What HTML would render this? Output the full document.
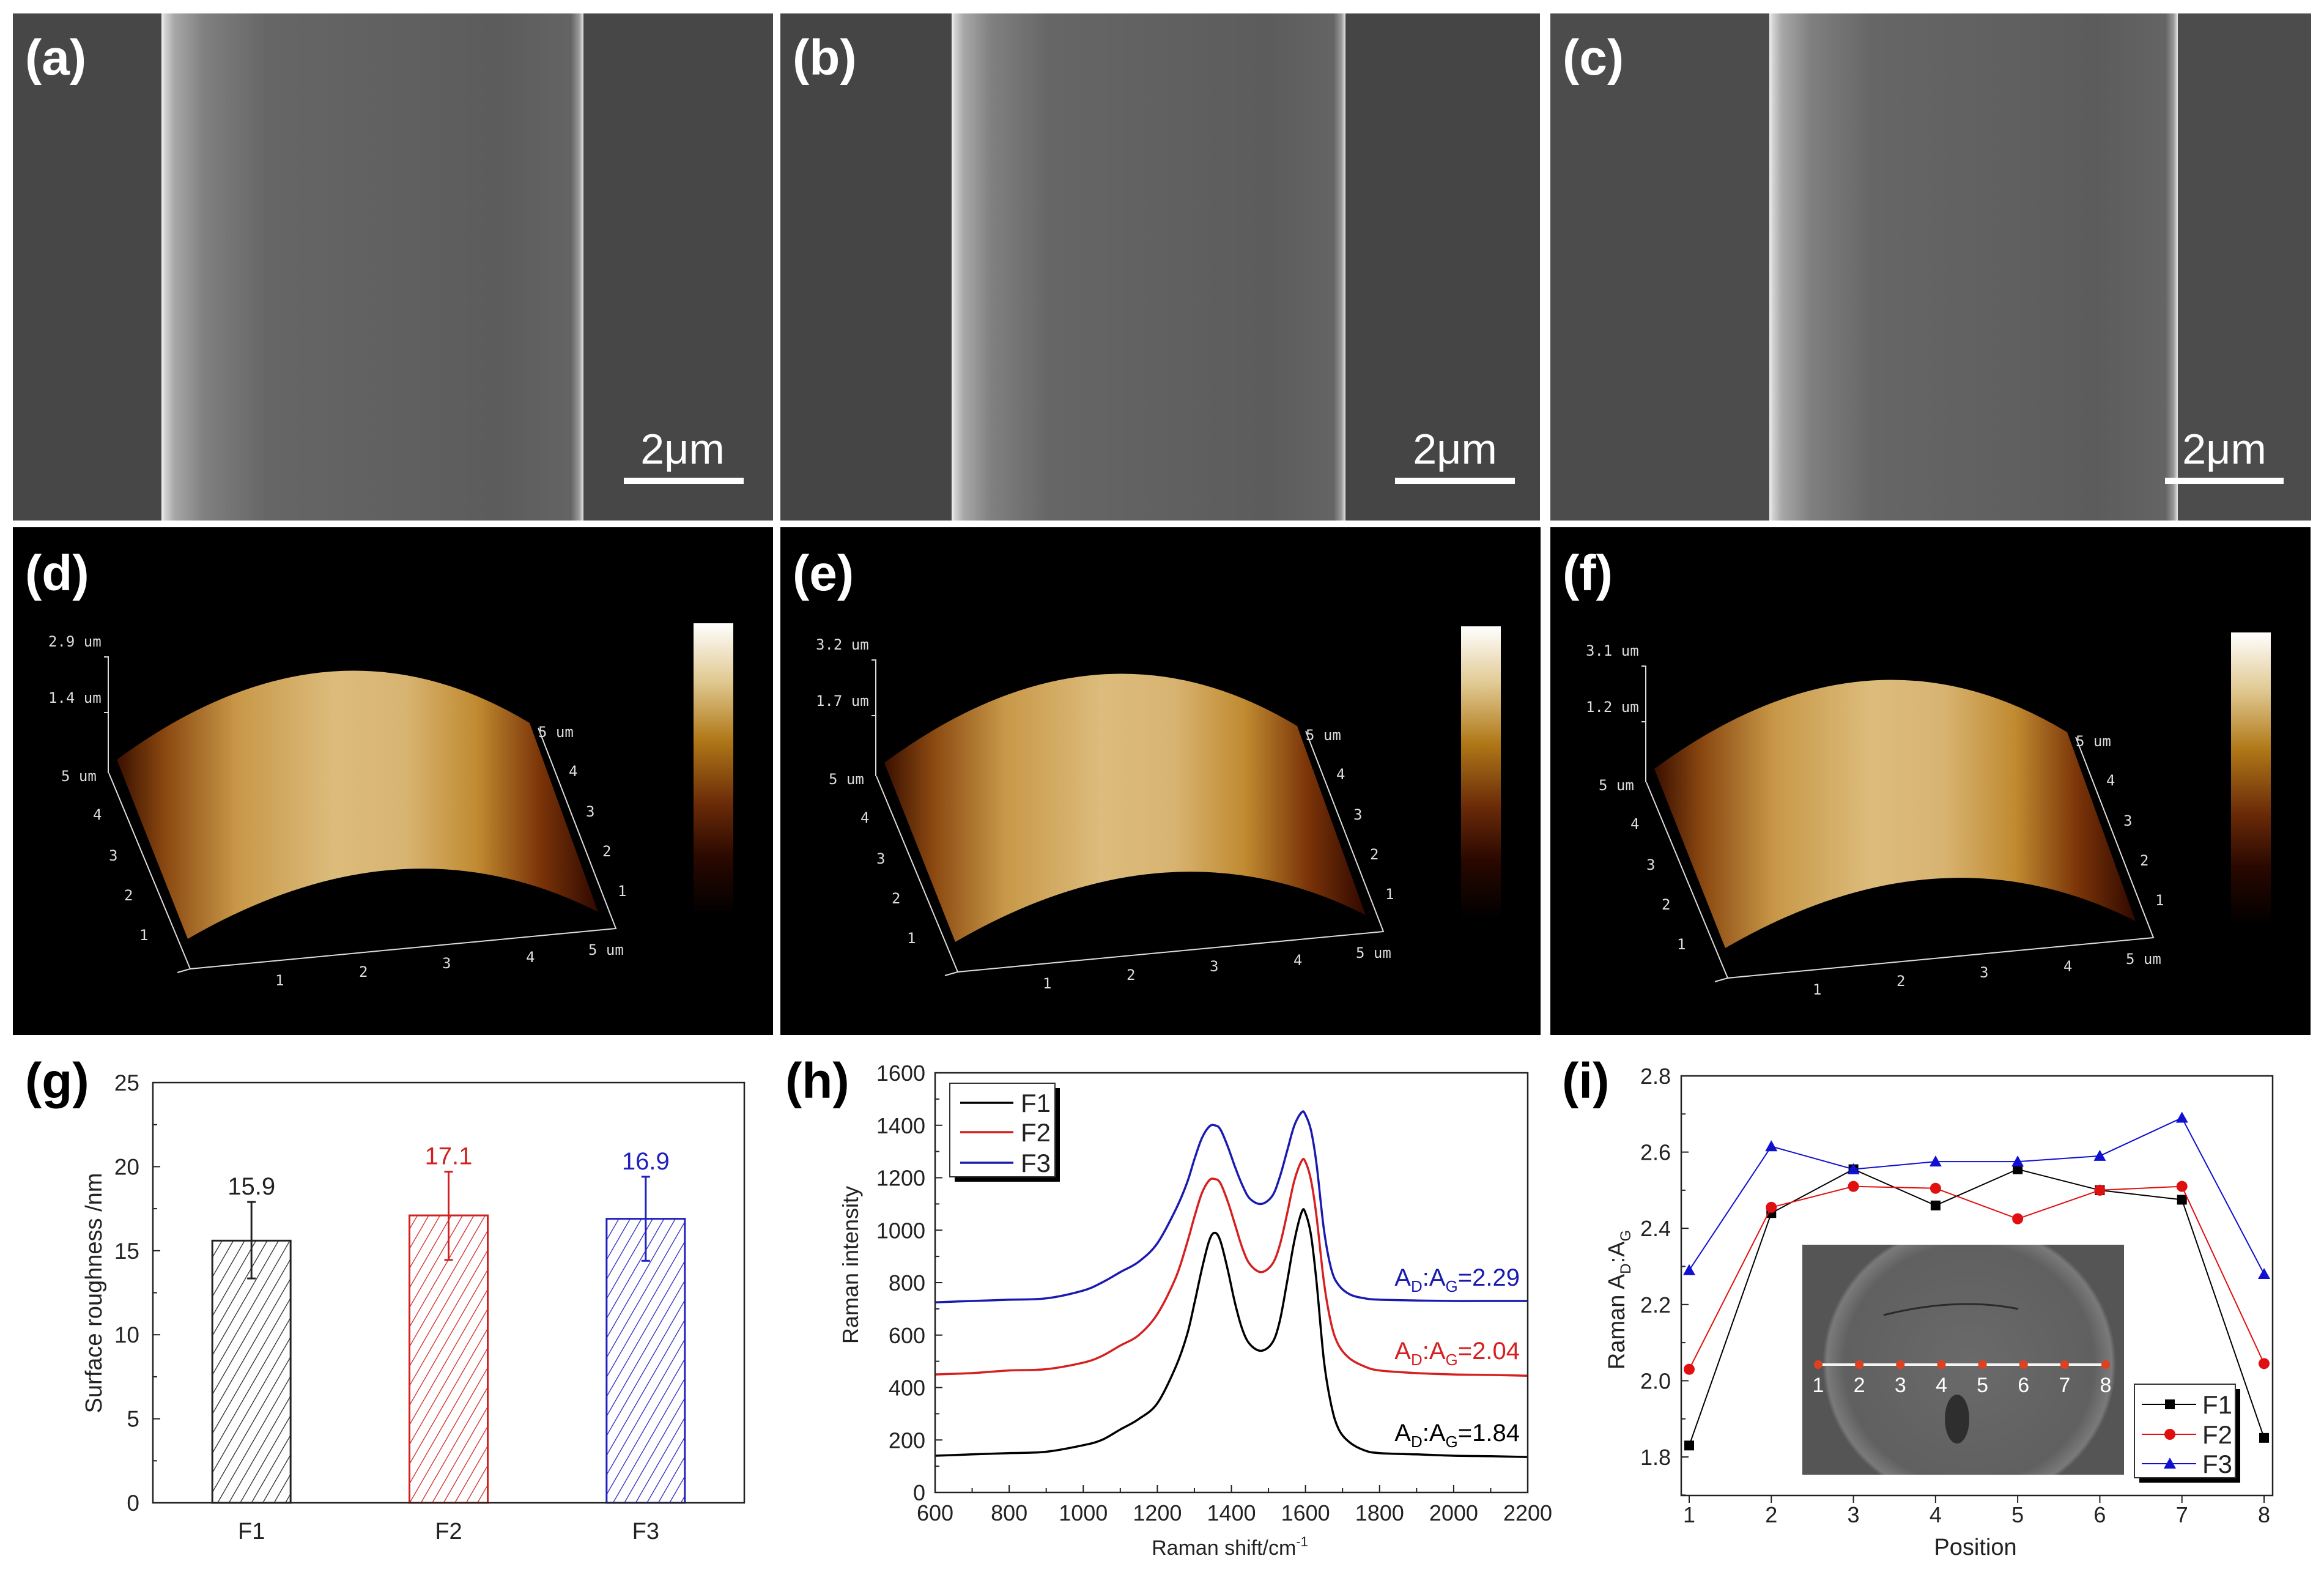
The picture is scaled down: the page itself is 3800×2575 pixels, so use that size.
<!DOCTYPE html>
<html><head><meta charset="utf-8"><style>
html,body{margin:0;padding:0;background:#fff}
svg{display:block;font-family:"Liberation Sans",sans-serif}
</style></head><body>
<svg id="fig" width="3800" height="2575" viewBox="0 0 3800 2575" xmlns="http://www.w3.org/2000/svg">
<defs>
<linearGradient id="fiberA" x1="0" x2="1" y1="0" y2="0">
<stop offset="0" stop-color="#f2f2f2"/><stop offset="0.008" stop-color="#d4d4d4"/><stop offset="0.03" stop-color="#a8a8a8"/><stop offset="0.1" stop-color="#808080"/><stop offset="0.25" stop-color="#666"/><stop offset="0.8" stop-color="#5c5c5c"/><stop offset="0.97" stop-color="#646464"/><stop offset="0.99" stop-color="#9a9a9a"/><stop offset="1" stop-color="#e6e6e6"/>
</linearGradient>
<linearGradient id="afmFill" x1="0" x2="1" y1="0" y2="0">
<stop offset="0" stop-color="#3a1000"/><stop offset="0.1" stop-color="#8a4810"/><stop offset="0.25" stop-color="#c89848"/><stop offset="0.45" stop-color="#dcbc7c"/><stop offset="0.6" stop-color="#d8b472"/><stop offset="0.75" stop-color="#c08a30"/><stop offset="0.88" stop-color="#7a3408"/><stop offset="1" stop-color="#300800"/>
</linearGradient>
<linearGradient id="cbar" x1="0" x2="0" y1="0" y2="1">
<stop offset="0" stop-color="#ffffff"/><stop offset="0.2" stop-color="#e0c890"/><stop offset="0.4" stop-color="#b07818"/><stop offset="0.62" stop-color="#6a2a08"/><stop offset="0.8" stop-color="#2a0800"/><stop offset="1" stop-color="#000"/>
</linearGradient>
<radialGradient id="insetFib" cx="0.5" cy="0.5" r="0.5">
<stop offset="0" stop-color="#6a6a6a"/><stop offset="0.85" stop-color="#606060"/><stop offset="0.97" stop-color="#7a7a7a"/><stop offset="1" stop-color="#555"/>
</radialGradient>
<clipPath id="insetClip"><rect x="2947" y="2035" width="526" height="376"/></clipPath>
<pattern id="hatchK" width="16" height="16" patternUnits="userSpaceOnUse" patternTransform="rotate(30)"><line x1="0" y1="0" x2="0" y2="16" stroke="#222" stroke-width="2.5"/></pattern>
<pattern id="hatchR" width="16" height="16" patternUnits="userSpaceOnUse" patternTransform="rotate(30)"><line x1="0" y1="0" x2="0" y2="16" stroke="#d02020" stroke-width="2.5"/></pattern>
<pattern id="hatchB" width="16" height="16" patternUnits="userSpaceOnUse" patternTransform="rotate(30)"><line x1="0" y1="0" x2="0" y2="16" stroke="#2020c0" stroke-width="2.5"/></pattern>
</defs>

<g>
<rect x="21" y="22" width="1243" height="829" fill="#474747"/>
<rect x="264" y="22" width="690" height="829" fill="url(#fiberA)"/>
<text x="41" y="122" font-size="82" font-weight="bold" fill="#fff">(a)</text>
<text x="1116" y="758" font-size="70" fill="#fff" text-anchor="middle">2μm</text>
<rect x="1020" y="781" width="196" height="10" fill="#fff"/>
</g>
<g>
<rect x="1276" y="22" width="1242" height="829" fill="#454545"/>
<rect x="1556" y="22" width="644" height="829" fill="url(#fiberA)"/>
<text x="1296" y="122" font-size="82" font-weight="bold" fill="#fff">(b)</text>
<text x="2379" y="758" font-size="70" fill="#fff" text-anchor="middle">2μm</text>
<rect x="2281" y="781" width="196" height="10" fill="#fff"/>
</g>
<g>
<rect x="2535" y="22" width="1244" height="829" fill="#4c4c4c"/>
<rect x="2893" y="22" width="668" height="829" fill="url(#fiberA)"/>
<text x="2555" y="122" font-size="82" font-weight="bold" fill="#fff">(c)</text>
<text x="3637" y="758" font-size="70" fill="#fff" text-anchor="middle">2μm</text>
<rect x="3540" y="781" width="194" height="10" fill="#fff"/>
</g>

<g id="afmLayer"></g>
<g id="chartG"></g>
<g id="chartH"></g>
<g id="chartI"></g>
</svg>
<script>
const barCategories = ['F1','F2','F3'];
const barValues = [15.6, 17.1, 16.9];
const barErrUpper = [17.9, 19.7, 19.4];
const barErrLower = [13.35, 14.45, 14.4];
const barLabels = ['15.9','17.1','16.9'];
const barTicks = [0,5,10,15,20,25];

const ramanShift = [600,700,800,900,1000,1050,1100,1150,1200,1250,1280,1300,1320,1340,1355,1370,1390,1410,1430,1450,1480,1510,1530,1550,1570,1590,1600,1615,1630,1650,1670,1690,1720,1760,1800,1900,2000,2100,2200];
const ramanF1 = [140,145,150,155,180,200,240,280,340,480,600,720,850,960,990,960,850,720,620,565,540,570,650,800,960,1070,1065,980,800,500,330,240,190,160,150,145,140,138,135];
const ramanF2 = [450,455,465,470,495,520,560,600,680,820,950,1050,1140,1190,1195,1180,1110,1020,930,870,840,870,940,1060,1190,1265,1260,1190,1050,800,640,560,510,480,465,455,450,448,445];
const ramanF3 = [725,730,735,740,770,800,840,880,950,1080,1180,1270,1350,1395,1400,1385,1320,1240,1170,1120,1100,1130,1200,1300,1400,1450,1440,1380,1250,1000,850,790,755,740,735,732,730,730,730];
const ramanXTicks = [600,800,1000,1200,1400,1600,1800,2000,2200];
const ramanYTicks = [0,200,400,600,800,1000,1200,1400,1600];
const ramanRatios = ['1.84','2.04','2.29'];

const positions = [1,2,3,4,5,6,7,8];
const ratioF1 = [1.83,2.44,2.555,2.46,2.555,2.50,2.475,1.85];
const ratioF2 = [2.03,2.455,2.51,2.505,2.425,2.50,2.51,2.045];
const ratioF3 = [2.29,2.615,2.555,2.575,2.575,2.59,2.69,2.28];
const ratioYTicks = ['1.8','2.0','2.2','2.4','2.6','2.8'];

const afmZLabels = [['2.9 um','1.4 um'],['3.2 um','1.7 um'],['3.1 um','1.2 um']];

const NS='http://www.w3.org/2000/svg';
function mk(parent, tag, attrs, txt){
  const e=document.createElementNS(NS,tag);
  for(const k in attrs) e.setAttribute(k,attrs[k]);
  if(txt!==undefined) e.textContent=txt;
  parent.appendChild(e); return e;
}

const afmLayer=document.getElementById('afmLayer');
const afmOffsets=[[21,0],[1276,5],[2535,15]];
const afmLetters=['(d)','(e)','(f)'];
afmOffsets.forEach((o,i)=>{
  const ox=o[0], dy=o[1];
  const g=mk(afmLayer,'g',{transform:`translate(${ox-21},${dy})`});
  
  
  mk(g,'rect',{x:21,y:862-dy,width:1243,height:830,fill:'#000'});
  const lab=mk(g,'text',{x:41,y:965-dy,'font-size':82,'font-weight':'bold',fill:'#fff'},afmLetters[i]);
  
  
  const surf=mk(g,'path',{d:'M191,1242 Q540,985 866,1182 L978,1491 Q660,1330 307,1535 Z',fill:'url(#afmFill)'});
  
  
  const ax={stroke:'#ddd','stroke-width':2,fill:'none'};
  mk(g,'polyline',Object.assign({points:'170,1074 177,1074 177,1264'},ax));
  mk(g,'line',Object.assign({x1:170,y1:1165,x2:177,y2:1165},ax));
  mk(g,'polyline',Object.assign({points:'178,1264 311,1584 1007,1518 880,1190'},ax));
  mk(g,'line',Object.assign({x1:290,y1:1590,x2:311,y2:1584},ax));
  const ts={fill:'#ddd','font-size':24,'font-family':'DejaVu Sans Mono, monospace'};
  mk(g,'text',Object.assign({x:79,y:1057},ts),afmZLabels[i][0]);
  mk(g,'text',Object.assign({x:79,y:1149},ts),afmZLabels[i][1]);
  mk(g,'text',Object.assign({x:100,y:1277},ts),'5 um');
  [['4',152,1340],['3',178,1407],['2',203,1472],['1',228,1537]].forEach(t=>mk(g,'text',Object.assign({x:t[1],y:t[2]},ts),t[0]));
  [['1',450,1611],['2',587,1597],['3',723,1583],['4',860,1573],['5 um',962,1561]].forEach(t=>mk(g,'text',Object.assign({x:t[1],y:t[2]},ts),t[0]));
  [['5 um',880,1205],['4',930,1269],['3',958,1335],['2',985,1400],['1',1010,1465]].forEach(t=>mk(g,'text',Object.assign({x:t[1],y:t[2]},ts),t[0]));
  const cb=mk(g,'rect',{x:1134,y:1019,width:65,height:478,fill:'url(#cbar)'});
  
  
});

(function(){
  const G=document.getElementById('chartG');
  const L=250,R=1217,T=1770,B=2457, ymax=25;
  const y=v=>B-(v/ymax)*(B-T);
  const band=(R-L)/barCategories.length;
  const cx=i=>L+(i+0.5)*band;
  const colors=['#222','#d02020','#2020c0'];
  const hatch=['url(#hatchK)','url(#hatchR)','url(#hatchB)'];
  const lab=mk(G,'text',{x:41,y:1795,'font-size':82,'font-weight':'bold'},'(g)');
  
  
  barTicks.forEach(t=>{
    const tl=mk(G,'text',{x:228,y:y(t)+13,'font-size':37,'text-anchor':'end',fill:'#222'},String(t));
    
    
    mk(G,'line',{x1:L,x2:L+12,y1:y(t),y2:y(t),stroke:'#222','stroke-width':2});
    if(t<ymax) mk(G,'line',{x1:L,x2:L+7,y1:y(t+2.5),y2:y(t+2.5),stroke:'#222','stroke-width':2});
  });
  barCategories.forEach((c,i)=>{
    const w=128, x0=cx(i)-w/2;
    const bar=mk(G,'rect',{x:x0,y:y(barValues[i]),width:w,height:B-y(barValues[i]),fill:hatch[i],stroke:colors[i],'stroke-width':3});
    
    
    const eb=mk(G,'g',{stroke:colors[i],'stroke-width':3});
    
    
    mk(eb,'line',{x1:cx(i),x2:cx(i),y1:y(barErrUpper[i]),y2:y(barErrLower[i])});
    mk(eb,'line',{x1:cx(i)-7,x2:cx(i)+7,y1:y(barErrUpper[i]),y2:y(barErrUpper[i])});
    mk(eb,'line',{x1:cx(i)-7,x2:cx(i)+7,y1:y(barErrLower[i]),y2:y(barErrLower[i])});
    const vl=mk(G,'text',{x:cx(i),y:y(barErrUpper[i])-12,'font-size':40,'text-anchor':'middle',fill:colors[i]},barLabels[i]);
    
    
    const xl=mk(G,'text',{x:cx(i),y:2516,'font-size':38,'text-anchor':'middle',fill:'#222'},c);
    
    
  });
  const fr=mk(G,'rect',{x:L,y:T,width:R-L,height:B-T,fill:'none',stroke:'#222','stroke-width':2.5});
  
  
  const yt=mk(G,'text',{x:0,y:0,'font-size':38,'text-anchor':'middle',transform:'translate(166,2114) rotate(-90)',fill:'#222'},'Surface roughness /nm');
  
  
})();

(function(){
  const G=document.getElementById('chartH');
  const L=1529,R=2498,T=1754,B=2440;
  const x=v=>L+(v-600)/1600*(R-L);
  const y=v=>B-v/1600*(B-T);
  const lab=mk(G,'text',{x:1284,y:1795,'font-size':82,'font-weight':'bold'},'(h)');
  
  
  ramanYTicks.forEach(t=>{
    const tl=mk(G,'text',{x:1513,y:y(t)+13,'font-size':36,'text-anchor':'end',fill:'#222'},String(t));
    
    
    mk(G,'line',{x1:L,x2:L+12,y1:y(t),y2:y(t),stroke:'#222','stroke-width':2});
    if(t<1600) mk(G,'line',{x1:L,x2:L+7,y1:y(t+100),y2:y(t+100),stroke:'#222','stroke-width':2});
  });
  ramanXTicks.forEach(t=>{
    const tl=mk(G,'text',{x:x(t),y:2486,'font-size':36,'text-anchor':'middle',fill:'#222'},String(t));
    
    
    mk(G,'line',{x1:x(t),x2:x(t),y1:B,y2:B-12,stroke:'#222','stroke-width':2});
    if(t<2200) mk(G,'line',{x1:x(t+100),x2:x(t+100),y1:B,y2:B-7,stroke:'#222','stroke-width':2});
  });
  function smooth(xs,ys){
    const P=xs.map((v,i)=>[x(v),y(ys[i])]);
    let d='M'+P[0][0].toFixed(1)+','+P[0][1].toFixed(1);
    for(let i=0;i<P.length-1;i++){
      const p0=P[i-1]||P[i],p1=P[i],p2=P[i+1],p3=P[i+2]||P[i+1];
      const c1=[p1[0]+(p2[0]-p0[0])/6,p1[1]+(p2[1]-p0[1])/6];
      const c2=[p2[0]-(p3[0]-p1[0])/6,p2[1]-(p3[1]-p1[1])/6];
      d+=` C${c1[0].toFixed(1)},${c1[1].toFixed(1)} ${c2[0].toFixed(1)},${c2[1].toFixed(1)} ${p2[0].toFixed(1)},${p2[1].toFixed(1)}`;
    }
    return d;
  }
  const series=[[ramanF1,'#000','f1'],[ramanF2,'#d42020','f2'],[ramanF3,'#1a1ab0','f3']];
  series.forEach(s=>{
    const p=mk(G,'path',{d:smooth(ramanShift,s[0]),fill:'none',stroke:s[1],'stroke-width':3.5});
    
    
  });
  const annY=[2356,2222,2102];
  ramanRatios.forEach((r,i)=>{
    const t=mk(G,'text',{x:2485,y:annY[i],'font-size':40,'text-anchor':'end',fill:series[i][1]});
    
    
    mk(t,'tspan',{},'A');
    mk(t,'tspan',{'font-size':26,dy:10},'D');
    mk(t,'tspan',{dy:-10},':A');
    mk(t,'tspan',{'font-size':26,dy:10},'G');
    mk(t,'tspan',{dy:-10},'='+r);
  });
  const fr=mk(G,'rect',{x:L,y:T,width:R-L,height:B-T,fill:'none',stroke:'#222','stroke-width':2.5});
  
  
  const lg=mk(G,'g',{});
  
  
  mk(lg,'rect',{x:1561,y:1779,width:172,height:153,fill:'#000'});
  mk(lg,'rect',{x:1553,y:1771,width:172,height:153,fill:'#fff',stroke:'#333','stroke-width':2});
  [[1803,'F1','#000'],[1851,'F2','#d42020'],[1901,'F3','#1a1ab0']].forEach(e=>{
    const en=mk(lg,'g',{});
    
    
    mk(en,'line',{x1:1570,x2:1657,y1:e[0],y2:e[0],stroke:e[2],'stroke-width':3.5});
    mk(en,'text',{x:1669,y:e[0]+15,'font-size':42,fill:'#222'},e[1]);
  });
  const xt=mk(G,'text',{x:2011,y:2542,'font-size':34,'text-anchor':'middle',fill:'#222'});
  
  
  mk(xt,'tspan',{},'Raman shift/cm');
  mk(xt,'tspan',{'font-size':22,dy:-14},'-1');
  const yt=mk(G,'text',{x:0,y:0,'font-size':36,'text-anchor':'middle',transform:'translate(1403,2068) rotate(-90)',fill:'#222'},'Raman intensity');
  
  
})();

(function(){
  const G=document.getElementById('chartI');
  const L=2749,R=3716,T=1759,B=2445;
  const x=p=>2762+(p-1)*(3702-2762)/7;
  const y=v=>2382-(v-1.8)*(2382-1759);
  const lab=mk(G,'text',{x:2554,y:1795,'font-size':82,'font-weight':'bold'},'(i)');
  
  
  ratioYTicks.forEach(t=>{
    const v=parseFloat(t);
    const tl=mk(G,'text',{x:2732,y:y(v)+13,'font-size':36,'text-anchor':'end',fill:'#222'},t);
    
    
    mk(G,'line',{x1:L,x2:L+12,y1:y(v),y2:y(v),stroke:'#222','stroke-width':2});
    mk(G,'line',{x1:L,x2:L+7,y1:y(v-0.1),y2:y(v-0.1),stroke:'#222','stroke-width':2});
  });
  positions.forEach(p=>{
    const tl=mk(G,'text',{x:x(p),y:2489,'font-size':36,'text-anchor':'middle',fill:'#222'},String(p));
    
    
    mk(G,'line',{x1:x(p),x2:x(p),y1:B,y2:B+12,stroke:'#222','stroke-width':2});
  });
  const ins=mk(G,'g',{'clip-path':'url(#insetClip)'});
  
  
  mk(ins,'rect',{x:2947,y:2035,width:526,height:376,fill:'#555'});
  mk(ins,'ellipse',{cx:3220,cy:2230,rx:240,ry:230,fill:'url(#insetFib)'});
  mk(ins,'path',{d:'M3080,2150 Q3200,2120 3300,2140',stroke:'#2a2a2a','stroke-width':3,fill:'none'});
  mk(ins,'ellipse',{cx:3200,cy:2320,rx:20,ry:40,fill:'#2e2e2e'});
  mk(ins,'line',{x1:2973,x2:3443,y1:2231,y2:2231,stroke:'#f4f4f4','stroke-width':4});
  for(let k=0;k<8;k++){
    const px=2973+k*(3443-2973)/7;
    mk(ins,'circle',{cx:px,cy:2231,r:7,fill:'#e04020'});
    mk(ins,'text',{x:px,y:2276,'font-size':34,'text-anchor':'middle',fill:'#fff'},String(k+1));
  }
  function marker(g,type,cx,cy,col){
    if(type==='sq') mk(g,'rect',{x:cx-8,y:cy-8,width:16,height:16,fill:col});
    else if(type==='ci') mk(g,'circle',{cx:cx,cy:cy,r:9,fill:col});
    else mk(g,'polygon',{points:`${cx},${cy-10} ${cx+10},${cy+8} ${cx-10},${cy+8}`,fill:col});
  }
  const series=[[ratioF1,'#000','sq','f1'],[ratioF2,'#e01010','ci','f2'],[ratioF3,'#1010d0','tr','f3']];
  series.forEach(s=>{
    const pl=mk(G,'polyline',{points:positions.map((p,i)=>x(p)+','+y(s[0][i])).join(' '),fill:'none',stroke:s[1],'stroke-width':2});
    
    
    const mg=mk(G,'g',{});
    
    
    positions.forEach((p,i)=>marker(mg,s[2],x(p),y(s[0][i]),s[1]));
  });
  const fr=mk(G,'rect',{x:L,y:T,width:R-L,height:B-T,fill:'none',stroke:'#222','stroke-width':2.5});
  
  
  const lg=mk(G,'g',{});
  
  
  mk(lg,'rect',{x:3498,y:2271,width:165,height:153,fill:'#000'});
  mk(lg,'rect',{x:3490,y:2263,width:165,height:153,fill:'#fff',stroke:'#333','stroke-width':2});
  [[2296,'F1',0],[2345,'F2',1],[2393,'F3',2]].forEach(e=>{
    const s=series[e[2]];
    const en=mk(lg,'g',{});
    
    
    mk(en,'line',{x1:3502,x2:3591,y1:e[0],y2:e[0],stroke:s[1],'stroke-width':2});
    marker(en,s[2],3548,e[0],s[1]);
    mk(en,'text',{x:3601,y:e[0]+15,'font-size':42,fill:'#222'},e[1]);
  });
  const xt=mk(G,'text',{x:3230,y:2542,'font-size':38,'text-anchor':'middle',fill:'#222'},'Position');
  
  
  const yt=mk(G,'text',{x:0,y:0,'font-size':38,'text-anchor':'middle',transform:'translate(2656,2125) rotate(-90)',fill:'#222'});
  
  
  mk(yt,'tspan',{},'Raman A');
  mk(yt,'tspan',{'font-size':24,dy:10},'D');
  mk(yt,'tspan',{dy:-10},':A');
  mk(yt,'tspan',{'font-size':24,dy:10},'G');
})();
</script>
</body></html>
